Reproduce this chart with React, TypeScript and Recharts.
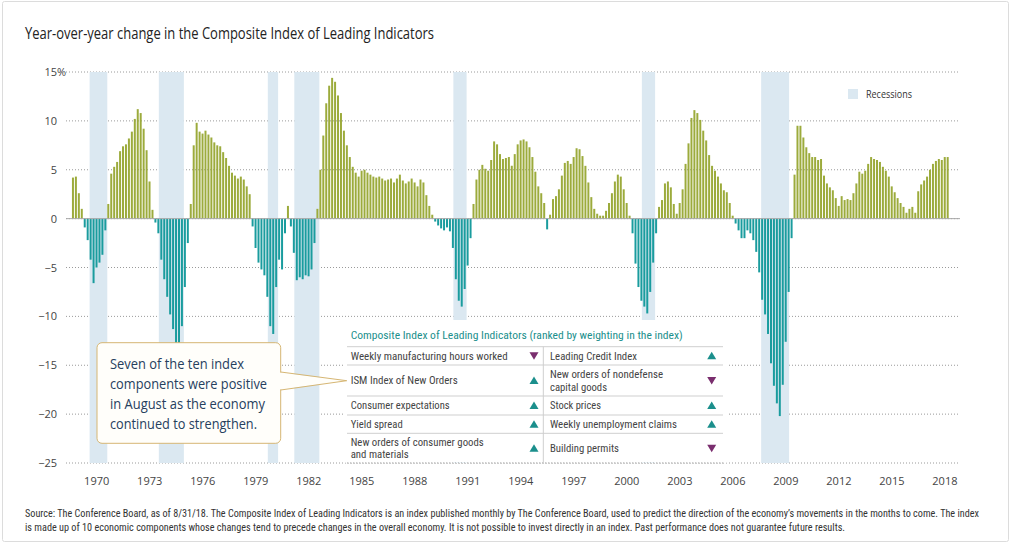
import React from 'react';
import { BarChart, Bar, XAxis, YAxis, CartesianGrid, ReferenceArea, ReferenceLine, Cell } from 'recharts';

// ---- DATA (bimonthly readings, % year-over-year) ----
const FIRST_YEAR = 1969;
const PERIODS_PER_YEAR = 6;

const yoy1969to1979 = [
  4.2, 4.3, 2.6, 1.0, -0.9, -2.2,
  -4.2, -6.6, -5.0, -4.5, -3.7, -1.2,
  1.5, 4.6, 5.3, 5.8, 6.9, 7.4,
  7.6, 8.2, 8.9, 10.2, 11.2, 10.8,
  9.2, 7.0, 3.8, 0.9, -0.4, -1.5,
  -4.2, -6.2, -8.0, -9.8, -11.3, -12.8,
  -13.3, -11.0, -7.0, -2.5, 1.5, 7.5,
  9.8, 8.9, 8.7, 9.0, 8.6, 8.3,
  7.8, 7.5, 7.4, 6.8, 6.2, 5.4,
  4.7, 4.4, 4.1, 4.3, 4.0, 3.3,
  2.5, -0.8, -3.0, -4.5, -5.2, -5.8,
];

const yoy1980to1989 = [
  -8.0, -11.0, -11.8, -7.0, -4.2, -5.2,
  -1.5, 1.3, -0.8, -3.5, -6.3, -6.0,
  -6.2, -5.8, -5.9, -5.2, -2.5, 1.0,
  5.0, 8.5, 11.8, 13.6, 14.4, 14.0,
  12.6, 10.8, 9.0, 7.5, 6.3, 5.3,
  4.7, 4.3, 4.9, 5.0, 4.7, 4.5,
  4.3, 4.2, 4.3, 4.1, 3.9, 4.0,
  4.1, 3.7, 4.1, 4.5, 3.9, 3.6,
  3.8, 4.1, 3.7, 3.3, 4.0, 3.7,
  2.4, 1.3, 0.4, -0.3, -0.7, -1.0,
];

const yoy1990to1999 = [
  -1.2, -0.9, -1.3, -3.0, -6.2, -8.4,
  -9.0, -7.2, -4.8, -2.0, 1.5, 4.0,
  5.0, 5.5, 5.1, 4.9, 6.0, 7.9,
  7.6, 6.6, 6.1, 6.2, 6.3, 5.4,
  6.6, 7.6, 8.0, 8.1, 7.9, 7.3,
  6.3, 4.8, 3.3, 2.6, 1.6, -1.1,
  0.4, 2.0, 2.3, 3.0, 4.4, 5.7,
  5.9, 5.6, 6.3, 7.2, 7.1, 6.4,
  5.4, 3.7, 2.2, 1.0, 0.5, 0.3,
  0.3, 0.8, 1.6, 2.6, 3.8, 4.5,
];

const yoy2000to2009 = [
  4.3, 3.0, 1.6, 0.3, -1.5, -4.6,
  -7.0, -8.4, -9.0, -9.7, -7.5, -4.5,
  -1.5, 1.2, 1.9, 3.6, 3.8, 3.2,
  1.5, 0.5, 1.6, 3.0, 5.6, 7.7,
  10.3, 11.1, 10.8, 10.1, 9.0, 8.0,
  6.5, 5.4, 4.9, 4.3, 3.6, 2.9,
  2.7, 1.6, 0.3, -0.5, -1.2, -2.0,
  -2.0, -1.2, -1.5, -2.2, -3.4, -5.5,
  -8.3, -9.8, -11.8, -14.8, -17.1, -18.9,
  -20.2, -17.0, -12.6, -7.5, -2.0, 4.5,
];

const yoy2010to2018 = [
  9.5, 9.5, 8.3, 7.3, 6.7, 6.3,
  6.3, 6.0, 6.1, 4.4, 3.6, 3.2,
  2.9, 2.1, 1.3, 2.3, 1.9, 2.0,
  1.9, 2.6, 3.6, 4.8, 4.6, 4.9,
  5.6, 6.3, 6.1, 6.0, 5.8, 5.3,
  4.9, 4.3, 3.3, 2.7, 2.1, 1.6,
  1.2, 0.6, 1.0, 1.2, 0.6, 2.8,
  3.5, 3.9, 4.3, 5.0, 5.6, 5.9,
  6.1, 6.0, 6.3, 6.3,
];

const recessions = [
  { start: 1969 + 11 / 12, end: 1970 + 11 / 12 },
  { start: 1973 + 10 / 12, end: 1975 + 3 / 12 },
  { start: 1980, end: 1980 + 7 / 12 },
  { start: 1981 + 6 / 12, end: 1982 + 11 / 12 },
  { start: 1990 + 6 / 12, end: 1991 + 3 / 12 },
  { start: 2001 + 2 / 12, end: 2001 + 11 / 12 },
  { start: 2007 + 11 / 12, end: 2009 + 6 / 12 },
];

const yearTicks = [1970, 1973, 1976, 1979, 1982, 1985, 1988, 1991, 1994, 1997, 2000, 2003, 2006, 2009, 2012, 2015, 2018];
const valueTicks = [15, 10, 5, 0, -5, -10, -15, -20, -25];

const titleText = 'Year-over-year change in the Composite Index of Leading Indicators';
const legendLabel = 'Recessions';
const tableTitle = 'Composite Index of Leading Indicators (ranked by weighting in the index)';
const indicatorRows = [
  { left: ['Weekly manufacturing hours worked'], leftUp: false, right: ['Leading Credit Index'], rightUp: true },
  { left: ['ISM Index of New Orders'], leftUp: true, right: ['New orders of nondefense', 'capital goods'], rightUp: false },
  { left: ['Consumer expectations'], leftUp: true, right: ['Stock prices'], rightUp: true },
  { left: ['Yield spread'], leftUp: true, right: ['Weekly unemployment claims'], rightUp: true },
  { left: ['New orders of consumer goods', 'and materials'], leftUp: true, right: ['Building permits'], rightUp: false },
];
const calloutLines = ['Seven of the ten index', 'components were positive', 'in August as the economy', 'continued to strengthen.'];
const footerLines = [
  'Source: The Conference Board, as of 8/31/18. The Composite Index of Leading Indicators is an index published monthly by The Conference Board, used to predict the direction of the economy\u2019s movements in the months to come. The index',
  'is made up of 10 economic components whose changes tend to precede changes in the overall economy. It is not possible to invest directly in an index. Past performance does not guarantee future results.',
];

const allValues = [...yoy1969to1979, ...yoy1980to1989, ...yoy1990to1999, ...yoy2000to2009, ...yoy2010to2018];
const chartData = allValues.map((v, i) => ({ t: FIRST_YEAR + i / PERIODS_PER_YEAR, v }));

// ---- STYLE / LAYOUT ----
const FONT = '"Open Sans", "Noto Sans", sans-serif';
const NARROW = '"Liberation Sans Narrow", "Arial Narrow", "Roboto Condensed", "Open Sans", sans-serif';
const GREEN = '#9cab3c';
const TEAL = '#1a9c9e';
const BAND = '#dbe8f1';
const TRI_TEAL = '#1b8f8c';
const TRI_PURPLE = '#7a2e6e';

const TEXT_WIDTHS: Record<string, number> = {
  'Weekly manufacturing hours worked': 157,
  'Leading Credit Index': 87,
  'ISM Index of New Orders': 107,
  'New orders of nondefense': 113,
  'capital goods': 57,
  'Consumer expectations': 99,
  'Stock prices': 51,
  'Yield spread': 52,
  'Weekly unemployment claims': 127,
  'New orders of consumer goods': 133,
  'and materials': 58,
  'Building permits': 69,
};
const CALLOUT_WIDTHS = [134, 157, 155, 147];
const FOOTER_WIDTHS = [954, 820];
const ROW_BOUNDS = [346.7, 365, 396, 415, 433.3, 463];
const CELL_LINE_GAP = 12.6;

const formatValue = (v: number) => (v < 0 ? `\u2212${Math.abs(v)}` : `${v}`);

const YTick = (props: any) => {
  const { y, payload } = props;
  return (
    <g>
      <text x={57} y={y + 4} textAnchor="end" fontSize={11} fill="#444" fontFamily={FONT}>
        {formatValue(payload.value)}
      </text>
      {payload.value === 15 && (
        <text x={57} y={y + 4} textAnchor="start" fontSize={11} fill="#444" fontFamily={FONT}>%</text>
      )}
    </g>
  );
};

const XTick = (props: any) => {
  const { x, payload } = props;
  return (
    <text x={x + 5.6} y={485} textAnchor="middle" fontSize={11} fill="#444" fontFamily={FONT}>
      {payload.value}
    </text>
  );
};

const Triangle = ({ cx, cy, up }: { cx: number; cy: number; up: boolean }) => {
  const pts = up
    ? `${cx - 4.5},${cy + 3.5} ${cx + 4.5},${cy + 3.5} ${cx},${cy - 4}`
    : `${cx - 4.5},${cy - 3.5} ${cx + 4.5},${cy - 3.5} ${cx},${cy + 4}`;
  return <polygon points={pts} fill={up ? TRI_TEAL : TRI_PURPLE} />;
};

const CellText = ({ lines, x, cy }: { lines: string[]; x: number; cy: number }) => {
  const firstY = lines.length === 1 ? cy + 3.9 : cy - CELL_LINE_GAP / 2 + 3.9;
  return (
    <g>
      {lines.map((ln, i) => (
        <text key={i} x={x} y={firstY + i * CELL_LINE_GAP} fontSize={11} fill="#444" fontFamily={NARROW}
          textLength={TEXT_WIDTHS[ln]} lengthAdjust="spacingAndGlyphs">
          {ln}
        </text>
      ))}
    </g>
  );
};

const Overlay = () => (
  <svg width={1014} height={545} style={{ position: 'absolute', left: 0, top: 0, pointerEvents: 'none' }}>
    {/* card border */}
    <rect x={2.5} y={1.5} width={1006} height={540} rx={2} fill="none" stroke="#dcdcdc" />
    {/* title */}
    <text x={25} y={38.5} fontSize={15.5} fill="#222" fontFamily={FONT} textLength={409} lengthAdjust="spacingAndGlyphs">
      {titleText}
    </text>
    {/* legend */}
    <rect x={848} y={89} width={10} height={10} fill={BAND} />
    <text x={866} y={98} fontSize={11} fill="#333" fontFamily={FONT} textLength={46} lengthAdjust="spacingAndGlyphs">
      {legendLabel}
    </text>

    {/* table */}
    <rect x={343} y={320} width={384} height={142.5} fill="#fff" />
    <text x={350.7} y={339} fontSize={11.5} fill="#1b8f8c" fontFamily={NARROW} textLength={332} lengthAdjust="spacingAndGlyphs">
      {tableTitle}
    </text>
    {ROW_BOUNDS.slice(0, 5).map((yb, i) => (
      <line key={i} x1={347} x2={723} y1={yb} y2={yb} stroke="#cfcfcf" strokeWidth={1} />
    ))}
    <line x1={543.3} x2={543.3} y1={346.7} y2={463} stroke="#cfcfcf" strokeWidth={1} />
    <line x1={347} x2={723} y1={463} y2={463} stroke="#9a9a9a" strokeDasharray="1 2" />
    {indicatorRows.map((row, i) => {
      const cy = (ROW_BOUNDS[i] + ROW_BOUNDS[i + 1]) / 2;
      return (
        <g key={i}>
          <CellText lines={row.left} x={350.7} cy={cy} />
          <Triangle cx={534} cy={cy} up={row.leftUp} />
          <CellText lines={row.right} x={550} cy={cy} />
          <Triangle cx={711.7} cy={cy} up={row.rightUp} />
        </g>
      );
    })}

    {/* callout */}
    <rect x={97} y={342.7} width={183.7} height={100.6} rx={5} fill="#fffefa" stroke="#d6b673" strokeWidth={1} />
    <polygon points="279.6,372.5 346.7,380.7 279.6,389.5" fill="#fffefa" />
    <path d="M280.7,372 L346.7,380.7 L280.7,390" fill="none" stroke="#d6b673" strokeWidth={1} />
    {calloutLines.map((ln, i) => (
      <text key={i} x={110} y={369 + i * 20} fontSize={14.5} fill="#26405e" fontFamily={FONT}
        textLength={CALLOUT_WIDTHS[i]} lengthAdjust="spacingAndGlyphs">
        {ln}
      </text>
    ))}

    {/* footer */}
    {footerLines.map((ln, i) => (
      <text key={i} x={25} y={516.5 + i * 14} fontSize={10} fill="#333" fontFamily={NARROW}
        textLength={FOOTER_WIDTHS[i]} lengthAdjust="spacingAndGlyphs">
        {ln}
      </text>
    ))}
  </svg>
);

export default function App() {
  return (
    <div style={{ position: 'absolute', left: 0, top: 0, width: 1014, height: 545, background: '#fff', fontFamily: FONT }}>
      <BarChart width={1014} height={545} data={chartData} margin={{ top: 72, right: 54, bottom: 52, left: 0 }}>
        <CartesianGrid vertical={false} stroke="#9a9a9a" strokeDasharray="1 2" />
        {recessions.map((r, i) => (
          <ReferenceArea key={i} x1={r.start} x2={r.end} y1={-25} y2={15} fill={BAND} fillOpacity={1} stroke="none" ifOverflow="visible" />
        ))}
        <XAxis
          type="number"
          dataKey="t"
          domain={[1968.58, 2019.17]}
          ticks={yearTicks}
          interval={0}
          axisLine={false}
          tickLine={false}
          height={30}
          tick={<XTick />}
          allowDataOverflow
        />
        <YAxis
          type="number"
          domain={[-25, 15]}
          ticks={valueTicks}
          interval={0}
          axisLine={false}
          tickLine={false}
          width={66}
          tick={<YTick />}
          allowDataOverflow
        />
        <ReferenceLine y={0} stroke="#a8a8a8" strokeWidth={1} />
        <Bar dataKey="v" barSize={2} isAnimationActive={false}>
          {chartData.map((d, i) => (
            <Cell key={i} fill={d.v >= 0 ? GREEN : TEAL} />
          ))}
        </Bar>
      </BarChart>
      <Overlay />
    </div>
  );
}
